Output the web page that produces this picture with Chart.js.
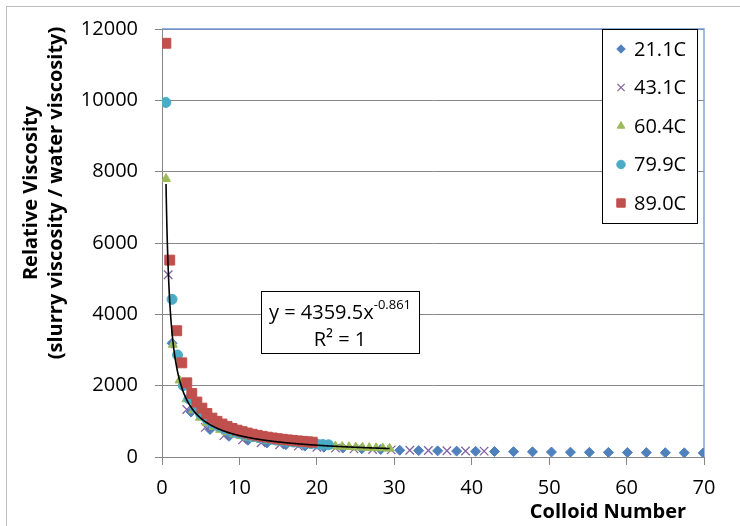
<!DOCTYPE html>
<html>
<head>
<meta charset="utf-8">
<script src="https://cdn.jsdelivr.net/npm/chart.js@4.4.1/dist/chart.umd.min.js"></script>
<style>
  body { margin: 0; background: #fff; }
  #wrap { width: 740px; height: 526px; }
</style>
</head>
<body>
<div id="wrap"><canvas id="viscosity" width="740" height="526"></canvas></div>
<script>
const seriesLabels = ["21.1C", "43.1C", "60.4C", "79.9C", "89.0C"];

// 21.1C
const x21 = [1.3, 3.75, 6.2, 8.65, 11.1, 13.55, 16.0, 18.45, 20.9, 23.35, 25.8, 28.25, 30.7, 33.15, 35.6,
  38.05, 40.5, 42.95, 45.4, 47.85, 50.3, 52.75, 55.2, 57.65, 60.1, 62.55, 65.0, 67.45, 69.9];
const y21 = [3190, 1260, 770, 580, 470, 395, 345, 305, 275, 250, 230, 210, 190, 180, 172,
  165, 160, 155, 150, 145, 140, 136, 132, 129, 126, 123, 120, 117, 114];

// 43.1C
const x43 = [0.8, 3.2, 5.6, 8.0, 10.4, 12.8, 15.2, 17.6, 20.0, 22.4, 24.8, 27.2, 29.6, 32.0, 34.4, 36.8, 39.2, 41.6];
const y43 = [5110, 1330, 830, 600, 480, 400, 345, 305, 272, 248, 228, 212, 200, 190, 182, 176, 170, 165];

// 60.4C
const x60 = [0.52, 1.4, 2.27, 3.15, 4.02, 4.9, 5.77, 6.65, 7.52, 8.4, 9.27, 10.15, 11.02, 11.9, 12.77, 13.65, 14.52,
  15.4, 16.27, 17.15, 18.02, 18.9, 19.77, 20.65, 21.52, 22.4, 23.27, 24.15, 25.02, 25.9, 26.77, 27.65, 28.52, 29.4];
const y60 = [7800, 3150, 2150, 1620, 1310, 1105, 960, 850, 765, 695, 640, 590, 550, 515, 485, 460, 435,
  415, 395, 378, 362, 348, 334, 322, 311, 300, 290, 281, 273, 265, 258, 251, 244, 238];

// 79.9C
const x79 = [0.5, 1.3, 2.0, 2.75, 3.5, 4.25, 5.0, 5.75, 6.5, 7.25, 8.0, 8.75, 9.5, 10.25, 11.0, 11.75, 12.5,
  13.25, 14.0, 14.75, 15.5, 16.25, 17.0, 17.75, 18.5, 19.25, 20.0, 20.75, 21.5];
const y79 = [9940, 4420, 2860, 2000, 1630, 1380, 1200, 1065, 955, 870, 800, 740, 690, 645, 608, 575, 545,
  518, 495, 473, 453, 435, 418, 403, 389, 375, 364, 352, 342];

// 89.0C
const x89 = [0.5, 1.0, 1.9, 2.55, 3.2, 3.85, 4.5, 5.15, 5.8, 6.45, 7.1, 7.75, 8.4, 9.05, 9.7, 10.35, 11.0,
  11.65, 12.3, 12.95, 13.6, 14.25, 14.9, 15.55, 16.2, 16.85, 17.5, 18.15, 18.8, 19.4];
const y89 = [11600, 5520, 3540, 2640, 2080, 1780, 1540, 1370, 1220, 1090, 1000, 925, 860, 800, 752, 710, 672,
  638, 607, 580, 556, 534, 514, 496, 480, 465, 451, 438, 426, 415];

// power trendline y = a * x^b
const fitA = 4359.5;
const fitB = -0.861;
const fitR2 = 1;
const fitRange = [0.52, 29.4];

const xTicks = [0, 10, 20, 30, 40, 50, 60, 70];
const yTicks = [0, 2000, 4000, 6000, 8000, 10000, 12000];

const colors = ["#4f81bd", "#8064a2", "#9bbb59", "#4bacc6", "#c0504d"];
const styles = ["rectRot", "crossRot", "triangle", "circle", "rect"];
const radii = [5, 6, 5.2, 5, 7];

const FONT = "Open Sans";
Chart.defaults.font.family = FONT;
Chart.defaults.font.size = 20;
Chart.defaults.color = "#000";

function pts(xs, ys) {
  return xs.map((v, i) => ({ x: v, y: ys[i] }));
}

const allX = [x21, x43, x60, x79, x89];
const allY = [y21, y43, y60, y79, y89];

const datasets = seriesLabels.map((label, i) => ({
  label: label,
  data: pts(allX[i], allY[i]),
  pointStyle: styles[i],
  pointRadius: radii[i],
  backgroundColor: colors[i],
  borderColor: colors[i],
  borderWidth: i === 1 ? 1.3 : 1,
  order: 5 - i
}));

const extras = {
  id: "extras",
  beforeDatasetsDraw(chart) {
    const { ctx, chartArea: a } = chart;
    ctx.save();
    ctx.strokeStyle = "#6f97cd";
    ctx.lineWidth = 1.3;
    ctx.beginPath();
    ctx.moveTo(a.left, a.top);
    ctx.lineTo(a.right, a.top);
    ctx.lineTo(a.right, a.bottom);
    ctx.stroke();
    ctx.restore();
  },
  afterDatasetsDraw(chart) {
    const { ctx, scales } = chart;
    const n = 1200;
    ctx.save();
    ctx.beginPath();
    for (let i = 0; i <= n; i++) {
      const xv = fitRange[0] + (fitRange[1] - fitRange[0]) * Math.pow(i / n, 2);
      const px = scales.x.getPixelForValue(xv);
      const py = scales.y.getPixelForValue(fitA * Math.pow(xv, fitB));
      if (i === 0) ctx.moveTo(px, py); else ctx.lineTo(px, py);
    }
    ctx.strokeStyle = "#000";
    ctx.lineWidth = 1.6;
    ctx.stroke();
    ctx.restore();
  },
  afterDraw(chart) {
    const ctx = chart.ctx;
    ctx.save();

    // outer frame
    ctx.strokeStyle = "#bdbdbd";
    ctx.lineWidth = 1;
    ctx.strokeRect(6.5, 6.5, 760, 560);

    // legend box
    ctx.fillStyle = "#fff";
    ctx.fillRect(602, 29, 95, 194);
    ctx.strokeStyle = "#000";
    ctx.strokeRect(602.5, 29.5, 95, 194);
    seriesLabels.forEach((label, i) => {
      const cy = 49 + i * 38.5;
      ctx.fillStyle = colors[i];
      ctx.strokeStyle = colors[i];
      ctx.lineWidth = i === 1 ? 1.3 : 1;
      Chart.helpers.drawPoint(ctx, { pointStyle: styles[i], radius: radii[i] * 0.85, rotation: 0, borderWidth: 1 }, 621, cy);
      ctx.fillStyle = "#000";
      ctx.font = "20px " + FONT;
      ctx.textAlign = "left";
      ctx.textBaseline = "middle";
      ctx.fillText(label, 634, cy + 1);
    });

    // trendline equation
    ctx.fillStyle = "#fff";
    ctx.fillRect(261, 291, 158, 62);
    ctx.strokeStyle = "#000";
    ctx.lineWidth = 1;
    ctx.strokeRect(261.5, 291.5, 158, 62);
    ctx.fillStyle = "#000";
    ctx.textBaseline = "alphabetic";
    ctx.font = "20px " + FONT;
    const main = "y = " + fitA + "x";
    const sup = String(fitB);
    const wMain = ctx.measureText(main).width;
    ctx.font = "13px " + FONT;
    const wSup = ctx.measureText(sup).width;
    const startX = 340 - (wMain + wSup) / 2;
    ctx.font = "20px " + FONT;
    ctx.textAlign = "left";
    ctx.fillText(main, startX, 319);
    ctx.font = "13px " + FONT;
    ctx.fillText(sup, startX + wMain, 309);
    ctx.font = "20px " + FONT;
    ctx.textAlign = "center";
    ctx.fillText("R\u00b2 = " + fitR2, 340, 346);

    // axis titles
    ctx.font = "bold 20px " + FONT;
    ctx.textAlign = "center";
    ctx.textBaseline = "middle";
    ctx.fillText("Colloid Number", 608, 512);
    ctx.save();
    ctx.translate(31, 193);
    ctx.rotate(-Math.PI / 2);
    ctx.fillText("Relative Viscosity", 0, 0);
    ctx.restore();
    ctx.save();
    ctx.translate(56, 193);
    ctx.rotate(-Math.PI / 2);
    ctx.fillText("(slurry viscosity / water viscosity)", 0, 0);
    ctx.restore();

    ctx.restore();
  }
};

new Chart(document.getElementById("viscosity"), {
  type: "scatter",
  data: { datasets: datasets },
  options: {
    responsive: false,
    animation: false,
    events: [],
    layout: { padding: { left: 0, top: 25, right: 36, bottom: 0 } },
    plugins: {
      legend: { display: false },
      tooltip: { enabled: false }
    },
    scales: {
      x: {
        type: "linear",
        min: xTicks[0],
        max: xTicks[xTicks.length - 1],
        ticks: { stepSize: xTicks[1] - xTicks[0], padding: 11, callback: (v) => String(v) },
        grid: { drawOnChartArea: false, drawTicks: true, tickLength: 8, color: "#878787" },
        border: { color: "#878787" },
        afterFit(s) { s.height = 69; }
      },
      y: {
        type: "linear",
        min: yTicks[0],
        max: yTicks[yTicks.length - 1],
        ticks: { stepSize: yTicks[1] - yTicks[0], padding: 17, callback: (v) => String(v) },
        grid: { color: "#878787", tickLength: 7 },
        border: { color: "#878787" },
        afterFit(s) { s.height; s.width = 162; }
      }
    }
  },
  plugins: [extras]
});
</script>
</body>
</html>
